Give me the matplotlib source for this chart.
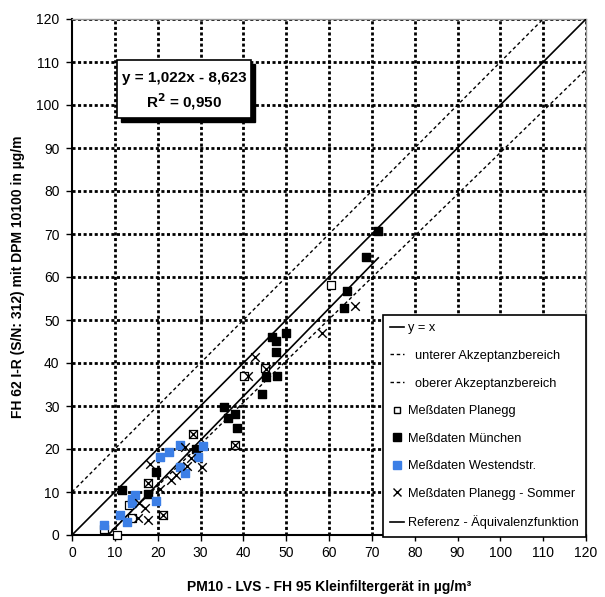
import matplotlib
matplotlib.use("Agg")
import matplotlib.pyplot as plt
from matplotlib.lines import Line2D
import numpy as np

plt.rcParams['font.family'] = ['Liberation Sans', 'DejaVu Sans']

# Data
planegg_x = [60.5, 40.2, 13.4, 10.4, 7.5, 13.9, 28.2, 17.8, 21.3, 38.1, 45.1]
planegg_y = [58.1, 37.0, 7.0, 0.0, 1.4, 4.0, 23.4, 12.0, 4.7, 20.9, 38.8]

muenchen_x = [71.4, 68.6, 64.1, 63.5, 46.8, 47.6, 50.0, 47.6, 47.8, 45.2, 44.4,
              35.5, 38.1, 36.5, 38.5, 28.9, 19.5, 11.6, 17.8]
muenchen_y = [70.8, 64.7, 56.7, 52.9, 46.0, 45.2, 47.0, 42.5, 37.0, 36.8, 32.8,
              29.7, 28.2, 27.1, 25.0, 20.1, 14.6, 10.5, 9.6]

westend_x = [7.5, 11.2, 12.8, 13.9, 14.7, 14.1, 19.6, 20.5, 22.7, 25.1, 30.7, 29.5, 25.2, 26.4]
westend_y = [2.3, 4.7, 3.1, 8.3, 9.3, 7.4, 7.9, 18.2, 19.4, 21.0, 20.8, 18.2, 15.9, 14.4]

sommer_x = [66.1, 58.3, 42.7, 41.2, 45.3, 38.1, 28.2, 26.4, 27.7, 26.8, 30.3, 24.3,
            23.0, 20.5, 18.2, 17.8, 17.0, 15.7, 15.3, 17.8, 21.3]
sommer_y = [53.3, 46.9, 41.4, 37.0, 38.6, 20.9, 23.5, 20.5, 18.0, 16.1, 15.9, 14.0,
            12.8, 10.6, 16.6, 12.0, 6.2, 7.4, 4.0, 3.5, 4.7]

slope, intercept = 1.022, -8.623
reg_x = [7.5, 71.5]
ident_x = [0, 120]
upper_x = [0, 110]          # y = x + 10
upper_off = 10
lower_pts_x = [8.2, 120]    # lower acceptance line
lower_pts_y = [0.0, 108.3]

ticks = list(range(0, 121, 10))

fig = plt.figure(figsize=(6.05, 5.97), dpi=100)
ax = fig.add_axes([72/605, 1-535/597, 514/605, 516/597])

ax.set_xlim(0, 120)
ax.set_ylim(0, 120)
ax.set_xticks(ticks)
ax.set_yticks(ticks)
ax.tick_params(labelsize=10, direction='out', length=4, width=1, colors='black')
ax.tick_params(axis='y', pad=5)
ax.tick_params(axis='x', pad=4)

# grid
for t in ticks[1:]:
    ax.axvline(t, color='black', lw=2.0, ls=(0, (1.1, 0.9)), zorder=1)
    ax.axhline(t, color='black', lw=2.0, ls=(0, (1.1, 0.9)), zorder=1)

for s in ['top', 'right']:
    ax.spines[s].set_color('#999999')
    ax.spines[s].set_linewidth(1)
for s in ['left', 'bottom']:
    ax.spines[s].set_color('black')
    ax.spines[s].set_linewidth(1.5)

# lines
ax.plot(ident_x, ident_x, color='black', lw=1.2, zorder=3)
ax.plot(upper_x, [v + upper_off for v in upper_x], color='black', lw=1.0, ls=(0, (2.5, 2)), zorder=3)
ax.plot(lower_pts_x, lower_pts_y, color='black', lw=1.0, ls=(0, (2.5, 2)), zorder=3)
ax.plot(reg_x, [slope*v + intercept for v in reg_x], color='black', lw=1.2, zorder=3)

# points
ax.scatter(planegg_x, planegg_y, marker='s', s=30, facecolor='white', edgecolor='black', lw=0.9, zorder=4, clip_on=False)
ax.scatter(muenchen_x, muenchen_y, marker='s', s=38, facecolor='black', edgecolor='black', zorder=5, clip_on=False)
ax.scatter(westend_x, westend_y, marker='s', s=38, facecolor='#3c7fe6', edgecolor='#3c7fe6', zorder=6, clip_on=False)
ax.scatter(sommer_x, sommer_y, marker='x', s=38, color='black', lw=1.0, zorder=7, clip_on=False)

ax.set_xlabel('PM10 - LVS - FH 95 Kleinfiltergerät in µg/m³', fontsize=10, fontweight='bold', labelpad=14)
ax.set_ylabel('FH 62 I-R (S/N: 312) mit DPM 10100 in µg/m', fontsize=10, fontweight='bold', labelpad=8)

# equation box with shadow
fig.patches.append(matplotlib.patches.Rectangle((121/605, 1-122/597), 134/605, 58/597,
                   transform=fig.transFigure, facecolor='black', edgecolor='black', zorder=8))
fig.patches.append(matplotlib.patches.Rectangle((117/605, 1-118/597), 134/605, 58/597,
                   transform=fig.transFigure, facecolor='white', edgecolor='black', lw=1.2, zorder=9))
fig.text(184/605, 1-78/597, 'y = 1,022x - 8,623', ha='center', va='center',
         fontsize=11, fontweight='bold', zorder=10)
fig.text(184/605, 1-102/597, r'R$^{\mathbf{2}}$ = 0,950', ha='center', va='center',
         fontsize=11, fontweight='bold', zorder=10)

handles = [
    Line2D([], [], color='black', lw=1.2),
    Line2D([], [], color='black', lw=1.0, ls=(0, (2.5, 2))),
    Line2D([], [], color='black', lw=1.0, ls=(0, (2.5, 2))),
    Line2D([], [], marker='s', ls='none', markerfacecolor='white', markeredgecolor='black', markersize=5),
    Line2D([], [], marker='s', ls='none', markerfacecolor='black', markeredgecolor='black', markersize=5.5),
    Line2D([], [], marker='s', ls='none', markerfacecolor='#3c7fe6', markeredgecolor='#3c7fe6', markersize=5.5),
    Line2D([], [], marker='x', ls='none', color='black', markersize=6),
    Line2D([], [], color='black', lw=1.2),
]
labels = ['y = x', '  unterer Akzeptanzbereich', '  oberer Akzeptanzbereich',
          'Meßdaten Planegg', 'Meßdaten München', 'Meßdaten Westendstr.',
          'Meßdaten Planegg - Sommer', 'Referenz - Äquivalenzfunktion']
leg = ax.legend(handles, labels, loc='lower right', bbox_to_anchor=(1.0, -0.004),
                fontsize=9.2, frameon=True, fancybox=False, edgecolor='black',
                framealpha=1, borderaxespad=0, labelspacing=1.22, handlelength=1.1,
                handletextpad=0.25, borderpad=0.6)
leg.get_frame().set_linewidth(1.2)
leg.set_zorder(20)

fig.savefig('out.png', dpi=100)
